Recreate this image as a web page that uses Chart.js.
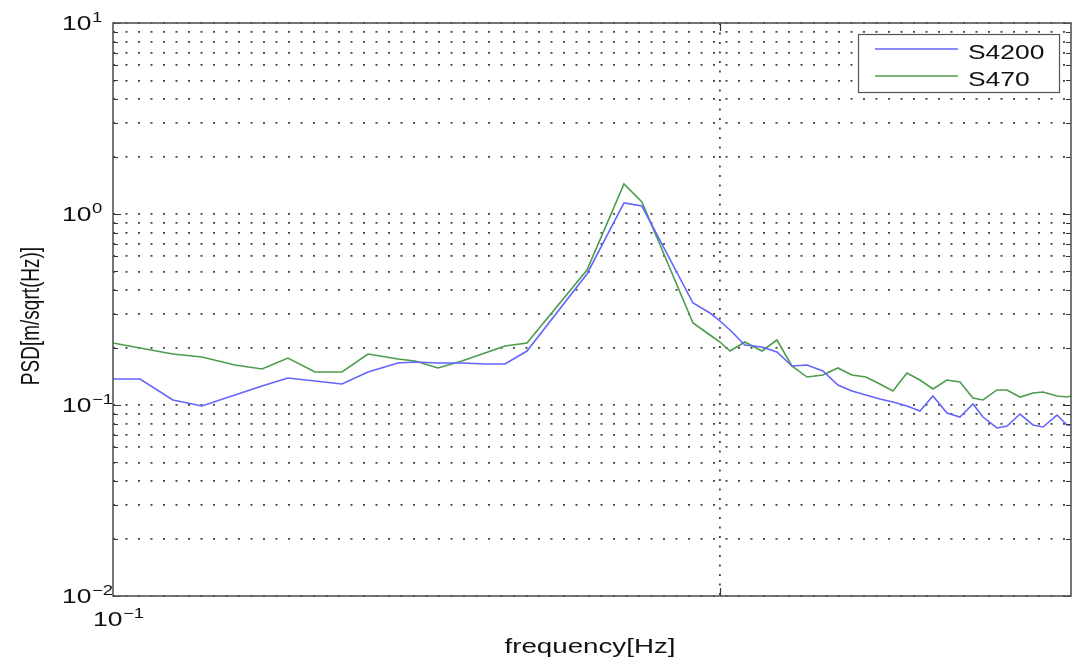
<!DOCTYPE html>
<html>
<head>
<meta charset="utf-8">
<script src="https://cdn.jsdelivr.net/npm/chart.js@4/dist/chart.umd.min.js"></script>
<style>
  html, body { margin: 0; padding: 0; background: #ffffff; }
  #wrap { width: 1079px; height: 661px; position: relative; }
</style>
</head>
<body>
<div id="wrap"><canvas id="psd"></canvas></div>
<script>
// Frequency bins [Hz]
const freqHz = [0.1, 0.1108, 0.1255, 0.1401, 0.1588, 0.1760, 0.1942, 0.2151, 0.2384, 0.2631,
  0.2948, 0.3145, 0.3431, 0.3758, 0.4101, 0.4424, 0.4809, 0.6038, 0.6948, 0.7437,
  0.9028, 0.9628, 1.0, 1.0387, 1.0994, 1.1727, 1.2413, 1.3140, 1.3909, 1.4778,
  1.5643, 1.6497, 1.7396, 1.8343, 1.9275, 2.0327, 2.1354, 2.2434, 2.3659, 2.4855,
  2.6113, 2.7122, 2.8601, 2.9710, 3.1210, 3.2789, 3.4058, 3.5916, 3.7304, 3.7875];

// PSD of sensor S4200 [m/sqrt(Hz)]
const psdS4200 = [0.1368, 0.1368, 0.1062, 0.0988, 0.1128, 0.1258, 0.1385, 0.1335, 0.1288, 0.1489,
  0.1660, 0.1680, 0.1660, 0.1660, 0.1640, 0.1640, 0.1917, 0.4852, 1.142, 1.101,
  0.3420, 0.3031, 0.2753, 0.2470, 0.2061, 0.2012, 0.1895, 0.1600, 0.1620, 0.1507,
  0.1273, 0.1184, 0.1128, 0.1075, 0.1037, 0.0988, 0.0930, 0.1115, 0.0908, 0.0865,
  0.1012, 0.0865, 0.0758, 0.0776, 0.0897, 0.0786, 0.0767, 0.0886, 0.0786, 0.0786];

// PSD of sensor S470 [m/sqrt(Hz)]
const psdS470 = [0.2112, 0.1988, 0.1849, 0.1784, 0.1620, 0.1543, 0.1762, 0.1489, 0.1489, 0.1849,
  0.1741, 0.1700, 0.1562, 0.1700, 0.1872, 0.2036, 0.2112, 0.5089, 1.436, 1.156,
  0.2687, 0.2325, 0.2137, 0.1917, 0.2137, 0.1917, 0.2189, 0.1600, 0.1401, 0.1437,
  0.1562, 0.1437, 0.1401, 0.1288, 0.1184, 0.1471, 0.1352, 0.1213, 0.1352, 0.1319,
  0.1088, 0.1062, 0.1199, 0.1199, 0.1101, 0.1156, 0.1170, 0.1115, 0.1101, 0.1115];

const seriesNames = ['S4200', 'S470'];
const seriesColors = ['#6464ff', '#4c9c4c'];

// Axis ranges and tick labels (base 10 with exponent)
const xRange = [0.1, 3.7875];
const yRange = [0.01, 10];
const xLabelValues = [0.1];
const xLabelExponents = ['\u22121'];
const xGridValues = [1];
const yMajorValues = [0.01, 0.1, 1, 10];
const yMajorExponents = ['\u22122', '\u22121', '0', '1'];
const axisTitles = { x: 'frequency[Hz]', y: 'PSD[m/sqrt(Hz)]' };

const FONT = '"Liberation Sans", Arial, Helvetica, sans-serif';
const TX = 1.32; // horizontal text stretch of the figure
const GRID_COLOR = 'rgba(35,35,35,0.85)';

// minor + major y tick positions (1..9 per decade)
const yTickValues = [];
for (let i = 0; i < yMajorValues.length - 1; i++) {
  for (let m = 1; m <= 9; m++) yTickValues.push(+(m * yMajorValues[i]).toPrecision(3));
}
yTickValues.push(yMajorValues[yMajorValues.length - 1]);

function powerLabel(ctx, exp, x, yc) {
  ctx.save();
  ctx.translate(x, yc);
  ctx.scale(TX, 1);
  ctx.fillStyle = '#111';
  ctx.textAlign = 'left';
  ctx.textBaseline = 'alphabetic';
  ctx.font = '20px ' + FONT;
  ctx.fillText('10', 0, 7);
  const w = ctx.measureText('10').width;
  ctx.font = '14px ' + FONT;
  ctx.fillText(exp, w + 0.5, -1);
  ctx.restore();
}

function stretchedText(ctx, str, x, y, size, align, rotate) {
  ctx.save();
  ctx.translate(x, y);
  ctx.scale(TX, 1);
  if (rotate) ctx.rotate(-Math.PI / 2);
  ctx.fillStyle = '#111';
  ctx.font = size + 'px ' + FONT;
  ctx.textAlign = align;
  ctx.textBaseline = 'alphabetic';
  ctx.fillText(str, 0, 0);
  ctx.restore();
}

const decorations = {
  id: 'decorations',
  afterDatasetsDraw(chart) {
    const ctx = chart.ctx;
    const a = chart.chartArea;
    const xs = chart.scales.x, ys = chart.scales.y;

    // inner tick marks on left/right edges
    ctx.save();
    ctx.strokeStyle = '#333';
    ctx.lineWidth = 1.2;
    ctx.beginPath();
    yTickValues.forEach(v => {
      const py = Math.round(ys.getPixelForValue(v)) + 0.5;
      const len = yMajorValues.includes(v) ? 8 : 5;
      ctx.moveTo(a.left, py); ctx.lineTo(a.left + len, py);
      ctx.moveTo(a.right, py); ctx.lineTo(a.right - len, py);
    });
    xGridValues.forEach(v => {
      const px = Math.round(xs.getPixelForValue(v)) + 0.5;
      ctx.moveTo(px, a.bottom); ctx.lineTo(px, a.bottom - 8);
      ctx.moveTo(px, a.top); ctx.lineTo(px, a.top + 8);
    });
    ctx.stroke();

    // axes box
    ctx.strokeStyle = '#555';
    ctx.lineWidth = 1.6;
    ctx.strokeRect(a.left, a.top, a.right - a.left, a.bottom - a.top);
    ctx.restore();

    // tick labels
    yMajorValues.forEach((v, i) => powerLabel(ctx, yMajorExponents[i], 62, ys.getPixelForValue(v)));
    xLabelValues.forEach((v, i) => powerLabel(ctx, xLabelExponents[i], xs.getPixelForValue(v) - 20, a.bottom + 23));

    // axis titles
    stretchedText(ctx, axisTitles.x, (a.left + a.right) / 2 - 2, a.bottom + 57, 21, 'center', false);
    stretchedText(ctx, axisTitles.y, 39, 316, 19, 'center', true);

    // legend box
    const lx = 858, ly = 34, lw = 201, lh = 58;
    ctx.save();
    ctx.fillStyle = '#ffffff';
    ctx.fillRect(lx, ly, lw, lh);
    ctx.strokeStyle = '#555';
    ctx.lineWidth = 1.2;
    ctx.strokeRect(lx + 0.5, ly + 0.5, lw, lh);
    chart.data.datasets.forEach((ds, i) => {
      const yy = ly + 15 + i * 27;
      ctx.strokeStyle = ds.borderColor;
      ctx.lineWidth = 1.6;
      ctx.beginPath();
      ctx.moveTo(lx + 17, yy); ctx.lineTo(lx + 100, yy);
      ctx.stroke();
      stretchedText(ctx, ds.label, lx + 110, yy + 9.5, 20, 'left', false);
    });
    ctx.restore();
  }
};

const datasets = [psdS4200, psdS470].map((vals, i) => ({
  label: seriesNames[i],
  data: freqHz.map((f, k) => ({ x: f, y: vals[k] })),
  borderColor: seriesColors[i],
  backgroundColor: seriesColors[i],
  borderWidth: 1.6,
  pointRadius: 0,
  tension: 0,
  fill: false
}));

new Chart(document.getElementById('psd'), {
  type: 'line',
  data: { datasets },
  plugins: [decorations],
  options: {
    responsive: true,
    maintainAspectRatio: false,
    animation: false,
    layout: { padding: { left: 113, right: 8, top: 23, bottom: 65 } },
    plugins: { legend: { display: false }, tooltip: { enabled: false } },
    scales: {
      x: {
        type: 'logarithmic',
        min: xRange[0], max: xRange[1],
        afterBuildTicks: s => { s.ticks = [...xLabelValues, ...xGridValues].map(v => ({ value: v })); },
        ticks: { display: false },
        grid: {
          drawTicks: false,
          lineWidth: 1.8,
          color: c => (c.tick && xGridValues.includes(c.tick.value)) ? GRID_COLOR : 'rgba(0,0,0,0)'
        },
        border: { display: false, dash: [2, 7.5] }
      },
      y: {
        type: 'logarithmic',
        min: yRange[0], max: yRange[1],
        afterBuildTicks: s => { s.ticks = yTickValues.map(v => ({ value: v })); },
        ticks: { display: false },
        grid: { drawTicks: false, lineWidth: 1.8, color: GRID_COLOR },
        border: { display: false, dash: [2, 10.5] }
      }
    }
  }
});
</script>
</body>
</html>
